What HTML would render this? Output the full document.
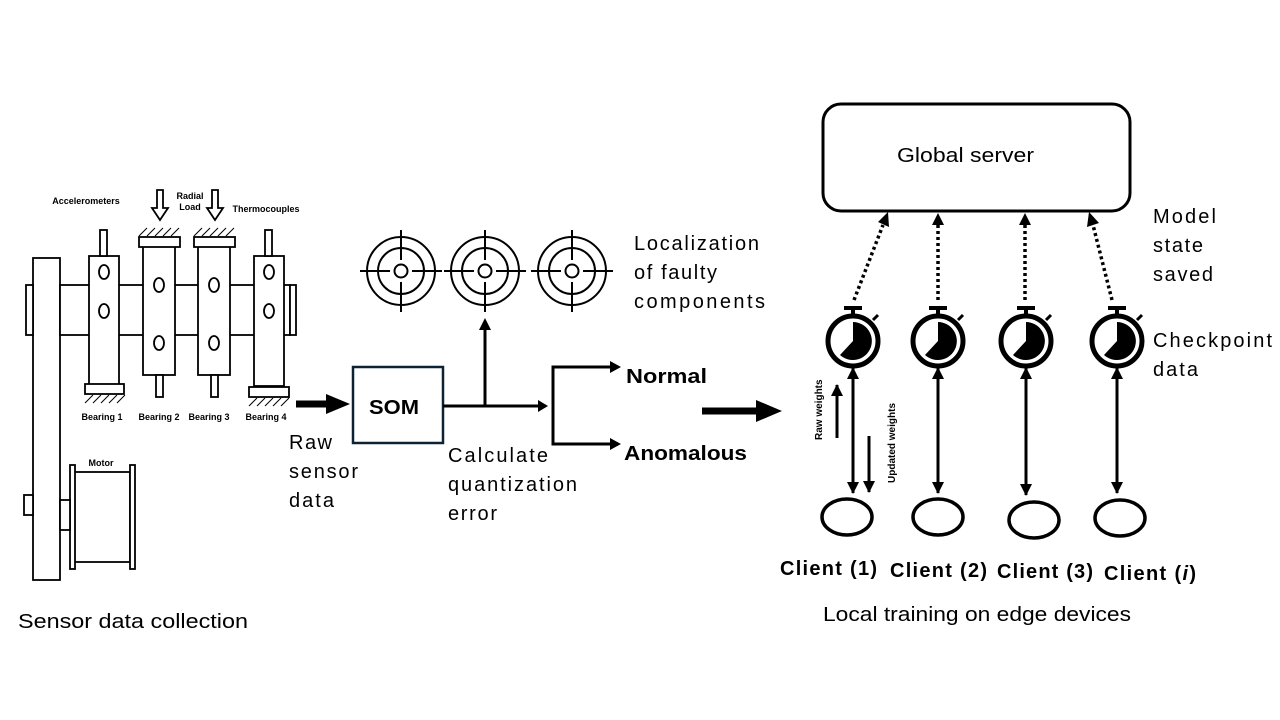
<!DOCTYPE html>
<html><head><style>body{margin:0;background:#fff}svg{display:block}</style></head><body>
<svg width="1280" height="720" viewBox="0 0 1280 720" xmlns="http://www.w3.org/2000/svg" font-family="Liberation Sans, sans-serif">
<defs>
<marker id="ah2" markerWidth="12" markerHeight="12" refX="11" refY="6" orient="auto-start-reverse" markerUnits="userSpaceOnUse"><path d="M0,0 L12,6 L0,12z" fill="#000"/></marker>
</defs>
<!-- machine -->
<g stroke="#000" stroke-width="1.8" fill="#fff">
<rect x="33" y="258" width="27" height="322"/>
<rect x="26" y="285" width="7" height="50"/>
<rect x="60" y="285" width="230" height="50"/>
<rect x="290" y="285" width="6" height="50"/>
<rect x="89" y="256" width="30" height="130"/>
<rect x="100" y="230" width="7" height="26"/>
<rect x="85" y="384" width="39" height="10"/>
<rect x="143" y="244" width="32" height="131"/>
<rect x="139" y="237" width="41" height="10"/>
<rect x="156" y="375" width="7" height="22"/>
<rect x="198" y="244" width="32" height="131"/>
<rect x="194" y="237" width="41" height="10"/>
<rect x="211" y="375" width="7" height="22"/>
<rect x="254" y="256" width="30" height="130"/>
<rect x="265" y="230" width="7" height="26"/>
<rect x="249" y="387" width="40" height="10"/>
<ellipse cx="104" cy="272" rx="5" ry="7"/><ellipse cx="104" cy="311" rx="5" ry="7"/>
<ellipse cx="159" cy="285" rx="5" ry="7"/><ellipse cx="159" cy="343" rx="5" ry="7"/>
<ellipse cx="214" cy="285" rx="5" ry="7"/><ellipse cx="214" cy="343" rx="5" ry="7"/>
<ellipse cx="269" cy="272" rx="5" ry="7"/><ellipse cx="269" cy="311" rx="5" ry="7"/>
<rect x="74" y="472" width="56" height="90"/>
<rect x="70" y="465" width="5" height="104"/><rect x="130" y="465" width="5" height="104"/>
<rect x="60" y="500" width="10" height="30"/>
<rect x="24" y="495" width="9" height="20"/>
<path d="M157 190 v18 h-5 l8 12 l8 -12 h-5 v-18z"/><path d="M212 190 v18 h-5 l8 12 l8 -12 h-5 v-18z"/>
<path d="M139 236 l8 -8 M147 236 l8 -8 M155 236 l8 -8 M163 236 l8 -8 M171 236 l8 -8 M194 236 l8 -8 M202 236 l8 -8 M210 236 l8 -8 M218 236 l8 -8 M226 236 l8 -8 M85 403 l8 -8 M93 403 l8 -8 M101 403 l8 -8 M109 403 l8 -8 M117 403 l8 -8 M249 406 l8 -8 M257 406 l8 -8 M265 406 l8 -8 M273 406 l8 -8 M281 406 l8 -8" stroke-width="1"/>
</g>
<g font-size="9" font-weight="bold" text-anchor="middle">
<text x="86" y="204">Accelerometers</text><text x="190" y="199">Radial</text><text x="190" y="210">Load</text>
<text x="266" y="212">Thermocouples</text>
<text x="102" y="420">Bearing 1</text><text x="159" y="420">Bearing 2</text><text x="209" y="420">Bearing 3</text><text x="266" y="420">Bearing 4</text>
<text x="101" y="466">Motor</text>
</g>
<text x="18" y="628" font-size="20" textLength="230" lengthAdjust="spacingAndGlyphs">Sensor data collection</text>
<!-- big arrows -->
<path d="M296 404 h32" stroke="#000" stroke-width="7"/><path d="M326 394 L350 404 L326 414z"/>
<path d="M702 411 h56" stroke="#000" stroke-width="7"/><path d="M756 400 L782 411 L756 422z"/>
<g font-size="20" lengthAdjust="spacingAndGlyphs">
<text x="289" y="449" textLength="43">Raw</text><text x="289" y="478" textLength="69">sensor</text><text x="289" y="507" textLength="45">data</text>
<text x="448" y="462" textLength="100">Calculate</text><text x="448" y="491" textLength="129">quantization</text><text x="448" y="520" textLength="49">error</text>
<text x="634" y="250" textLength="125">Localization</text><text x="634" y="279" textLength="83">of faulty</text><text x="634" y="308" textLength="131">components</text>
</g>
<!-- SOM -->
<rect x="353" y="367" width="90" height="76" fill="#fff" stroke="#0d2233" stroke-width="2.5"/>
<text x="369" y="414" font-size="20" font-weight="bold" textLength="50" lengthAdjust="spacingAndGlyphs">SOM</text>
<g stroke="#000" stroke-width="3" fill="none">
<path d="M443 406 H540" /><path d="M485 406 V330"/>
<path d="M612 367 H553 V444 H612"/>
</g>
<path d="M538 400 L548 406 L538 412z"/><path d="M479 330 L485 318 L491 330z"/>
<path d="M610 361 L621 367 L610 373z"/><path d="M610 438 L621 444 L610 450z"/>
<text x="626" y="383" font-size="20" font-weight="bold" textLength="81" lengthAdjust="spacingAndGlyphs">Normal</text>
<text x="624" y="460" font-size="20" font-weight="bold" textLength="123" lengthAdjust="spacingAndGlyphs">Anomalous</text>
<!-- targets -->
<g stroke="#000" stroke-width="2" fill="none">
<g transform="translate(401,271)"><circle r="34"/><circle r="23"/><circle r="6.5"/><path d="M-41 0H-11M11 0H41M0 -41V-11M0 11V41"/></g>
<g transform="translate(485,271)"><circle r="34"/><circle r="23"/><circle r="6.5"/><path d="M-41 0H-11M11 0H41M0 -41V-11M0 11V41"/></g>
<g transform="translate(572,271)"><circle r="34"/><circle r="23"/><circle r="6.5"/><path d="M-41 0H-11M11 0H41M0 -41V-11M0 11V41"/></g>
</g>
<!-- server -->
<rect x="823" y="104" width="307" height="107" rx="18" fill="#fff" stroke="#000" stroke-width="3"/>
<text x="897" y="162" font-size="20" textLength="137" lengthAdjust="spacingAndGlyphs">Global server</text>
<g font-size="20" lengthAdjust="spacingAndGlyphs"><text x="1153" y="223" textLength="63">Model</text><text x="1153" y="252" textLength="50">state</text><text x="1153" y="281" textLength="60">saved</text>
<text x="1153" y="347" textLength="119">Checkpoint</text><text x="1153" y="376" textLength="45">data</text></g>
<g stroke="#000" stroke-width="3.5" stroke-dasharray="3,3" fill="none">
<path d="M854 300 L883 225"/><path d="M938 300 V225"/><path d="M1025 300 V225"/><path d="M1112 300 L1093 225"/>
</g>
<path d="M878 222 L888 212 L889 227z"/><path d="M932 225 L938 213 L944 225z"/><path d="M1019 225 L1025 213 L1031 225z"/><path d="M1087 227 L1089 212 L1099 223z"/>
<!-- stopwatches -->
<g stroke="#000" fill="none">
<g transform="translate(853,341)"><circle r="25" stroke-width="5"/><path d="M-9 -33 H9 M0 -33 V-27" stroke-width="4"/><path d="M20 -21 L25 -26" stroke-width="3"/><path d="M0 0 V-19 A19 19 0 1 1 -13 14 Z" fill="#000" stroke="none"/></g>
<g transform="translate(938,341)"><circle r="25" stroke-width="5"/><path d="M-9 -33 H9 M0 -33 V-27" stroke-width="4"/><path d="M20 -21 L25 -26" stroke-width="3"/><path d="M0 0 V-19 A19 19 0 1 1 -13 14 Z" fill="#000" stroke="none"/></g>
<g transform="translate(1026,341)"><circle r="25" stroke-width="5"/><path d="M-9 -33 H9 M0 -33 V-27" stroke-width="4"/><path d="M20 -21 L25 -26" stroke-width="3"/><path d="M0 0 V-19 A19 19 0 1 1 -13 14 Z" fill="#000" stroke="none"/></g>
<g transform="translate(1117,341)"><circle r="25" stroke-width="5"/><path d="M-9 -33 H9 M0 -33 V-27" stroke-width="4"/><path d="M20 -21 L25 -26" stroke-width="3"/><path d="M0 0 V-19 A19 19 0 1 1 -13 14 Z" fill="#000" stroke="none"/></g>
<g stroke-width="3" marker-start="url(#ah2)" marker-end="url(#ah2)">
<path d="M853 368 V493"/><path d="M938 368 V493"/><path d="M1026 368 V495"/><path d="M1117 368 V493"/>
</g>
<path d="M837 438 V385" stroke-width="3" marker-end="url(#ah2)"/>
<path d="M869 436 V492" stroke-width="3" marker-end="url(#ah2)"/>
<g stroke-width="3.5">
<ellipse cx="847" cy="517" rx="25" ry="18"/><ellipse cx="938" cy="517" rx="25" ry="18"/><ellipse cx="1034" cy="520" rx="25" ry="18"/><ellipse cx="1120" cy="518" rx="25" ry="18"/>
</g>
</g>
<text transform="translate(822,440) rotate(-90)" font-size="10" font-weight="bold">Raw weights</text>
<text transform="translate(895,483) rotate(-90)" font-size="10" font-weight="bold">Updated weights</text>
<g font-size="20" font-weight="bold" lengthAdjust="spacingAndGlyphs">
<text x="780" y="575" textLength="97">Client (1)</text><text x="890" y="577" textLength="97">Client (2)</text><text x="997" y="578" textLength="96">Client (3)</text><text x="1104" y="580" textLength="92">Client (<tspan font-style="italic">i</tspan>)</text>
</g>
<text x="823" y="621" font-size="20" textLength="308" lengthAdjust="spacingAndGlyphs">Local training on edge devices</text>
</svg>
</body></html>
